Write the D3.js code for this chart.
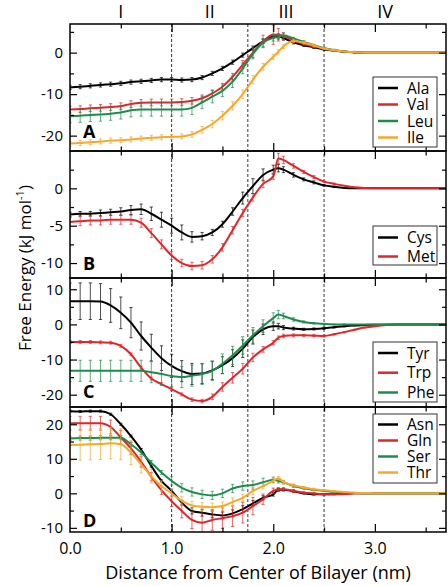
<!DOCTYPE html>
<html>
<head>
<meta charset="utf-8">
<script src="https://cdn.jsdelivr.net/npm/d3@7/dist/d3.min.js"></script>
<style>
  html, body { margin: 0; padding: 0; background: #fff; }
  svg { display: block; font-family: "Open Sans", "Noto Sans", sans-serif; }
</style>
</head>
<body>
<svg id="chart" width="448" height="586"></svg>
<script>
// ---------- DATA ----------
const xs = [0,0.1,0.2,0.3,0.4,0.5,0.6,0.7,0.8,0.9,1.0,1.1,1.2,1.3,1.4,1.5,1.6,1.7,1.8,1.9,2.0,2.05,2.1,2.2,2.3,2.4,2.5,2.6,2.7,2.8,2.9,3.0,3.2,3.7];

const regionLabels = ["I", "II", "III", "IV"];
const regionCenters = [0.5, 1.375, 2.125, 3.1];
const regionBounds = [1.0, 1.75, 2.5];
const xTickValues = [0, 1, 2, 3];
const xTickLabels = ["0.0", "1.0", "2.0", "3.0"];
const xMinorTicks = [0.5, 1.5, 2.5, 3.5];
const panelLetters = ["A", "B", "C", "D"];

// Panel A
const alaY = [-8.4,-8.2,-8.0,-7.8,-7.6,-7.4,-7.1,-6.9,-6.7,-6.5,-6.5,-6.6,-6.5,-6.0,-5.0,-3.8,-2.3,-0.6,1.1,2.7,3.9,4.0,3.5,2.5,1.8,1.3,0.8,0.5,0.2,0.1,0,0,0,0];
const alaErr = [0.5,0.5,0.5,0.5,0.5,0.5,0.5,0.5,0.5,0.5,0.5,0.5,0.5,0.5,0.5,0.5,0.5,0.5,0.5,0.5,0.5,0.5,0.5,0.4,0.3,0.3,0.3,0.2,0.2,0.2,0,0,0,0];
const valY = [-13.7,-13.6,-13.4,-13.3,-13.1,-12.9,-12.4,-12.1,-12.0,-12.0,-12.0,-11.9,-11.6,-11.0,-9.8,-8.2,-5.8,-2.9,0.0,2.7,4.3,4.3,4.0,3.0,2.1,1.5,1.0,0.6,0.3,0.1,0,0,0,0];
const valErr = [0.8,0.8,0.8,0.8,0.8,0.8,0.8,0.8,0.8,0.8,0.8,0.8,0.8,0.8,0.8,0.8,0.8,1.0,1.2,1.5,2.3,1.5,0.8,0.4,0.3,0.3,0.2,0.2,0.1,0.1,0,0,0,0];
const leuY = [-15.3,-15.2,-15.0,-14.9,-14.7,-14.4,-13.9,-13.7,-13.7,-13.7,-13.7,-13.7,-13.3,-12.0,-10.6,-9.2,-7.0,-3.8,-0.3,2.4,3.6,3.8,4.2,3.4,2.6,1.8,1.1,0.6,0.3,0.1,0,0,0,0];
const leuErr = [1.6,1.6,1.6,1.6,1.6,1.6,1.6,1.6,1.6,1.6,1.6,1.6,1.6,1.5,1.5,1.4,1.4,1.3,1.2,1.0,0.8,0.6,0.5,0.3,0.3,0.2,0.2,0.1,0.1,0.1,0,0,0,0];
const ileY = [-21.9,-21.8,-21.6,-21.4,-21.2,-21.1,-20.9,-20.7,-20.5,-20.4,-20.3,-20.2,-19.7,-18.6,-17.2,-15.2,-12.8,-10.0,-6.5,-3.4,-1.0,0.2,1.5,2.8,2.4,1.7,1.0,0.6,0.3,0.1,0,0,0,0];
const ileErr = [0.6,0.6,0.6,0.6,0.6,0.6,0.6,0.6,0.6,0.6,0.6,0.6,0.7,0.8,0.9,1.0,1.0,1.0,1.0,0.8,0.6,0.5,0.5,0.4,0.3,0.3,0.2,0.2,0.1,0.1,0,0,0,0];

// Panel B
const cysY = [-3.5,-3.4,-3.4,-3.3,-3.2,-3.1,-2.9,-2.8,-3.4,-4.2,-5.0,-5.9,-6.5,-6.4,-5.9,-4.8,-3.1,-1.3,0.3,1.8,2.5,2.7,2.5,1.8,1.2,0.8,0.4,0.2,0.05,0,0,0,0,0];
const cysErr = [0.3,0.3,0.3,0.4,0.4,0.5,0.6,0.7,0.9,1.0,1.0,1.0,0.7,0.5,0.4,0.4,0.5,0.8,1.0,0.8,0.6,0.5,0.4,0.3,0.2,0.2,0.1,0.1,0,0,0,0,0,0];
const metY = [-4.5,-4.4,-4.3,-4.3,-4.2,-4.2,-4.2,-4.6,-6.0,-7.5,-9.0,-10.0,-10.4,-10.3,-9.5,-7.9,-5.6,-3.3,-1.2,0.6,1.6,4.0,3.8,3.0,2.2,1.5,0.9,0.6,0.35,0.15,0.05,0,0,0];
const metErr = [0.6,0.6,0.6,0.6,0.6,0.6,0.6,0.6,0.6,0.6,0.5,0.5,0.5,0.5,0.5,0.5,0.5,0.5,0.5,0.5,0.4,0.7,0.5,0.3,0.2,0.2,0.1,0.1,0,0,0,0,0,0];

// Panel C
const tyrY = [6.6,6.6,6.6,6.5,5.4,3.3,0.5,-3.3,-6.6,-9.6,-11.8,-13.3,-14.1,-14.0,-13.1,-11.6,-9.6,-6.9,-3.6,-1.4,-0.5,-0.5,-0.9,-1.2,-1.4,-1.3,-1.1,-0.8,-0.5,-0.3,-0.2,-0.1,0,0];
const tyrErr = [5.2,5.2,5.2,5.1,4.8,4.5,4.3,4.0,3.8,3.5,3.3,3.0,3.0,2.8,2.6,2.4,2.4,2.5,2.0,1.5,1.2,0.8,0.6,0.4,0.3,0.3,0.3,0.2,0.2,0.1,0,0,0,0];
const trpY = [-5.0,-5.0,-5.0,-5.1,-5.2,-6.1,-8.5,-12.3,-15.4,-17.0,-18.4,-19.9,-21.4,-21.8,-20.6,-17.8,-15.2,-12.6,-9.4,-7.1,-5.2,-3.8,-3.3,-3.1,-3.1,-3.2,-3.3,-2.8,-2.2,-1.5,-0.9,-0.5,-0.05,0];
const trpErr = [0.4,0.4,0.4,0.4,0.4,0.4,0.4,0.4,0.4,0.4,0.4,0.4,0.5,0.5,0.8,1.2,1.5,1.5,1.2,0.8,0.6,0.5,0.5,0.4,0.3,0.3,0.3,0.2,0.2,0.1,0.1,0,0,0];
const pheY = [-13.2,-13.2,-13.2,-13.2,-13.2,-13.2,-13.2,-13.2,-13.6,-14.1,-14.7,-15.0,-14.6,-14.1,-13.2,-11.2,-8.8,-6.0,-3.1,-0.5,1.8,2.8,2.4,1.4,0.7,0.3,0.1,0,0,0,0,0,0,0];
const pheErr = [3.0,3.0,3.0,3.0,3.0,3.0,3.0,3.0,3.0,3.0,3.0,3.0,3.0,3.0,2.8,2.8,2.6,2.5,2.2,1.8,1.5,1.2,0.8,0.5,0.3,0.2,0.2,0.1,0.1,0,0,0,0,0];

// Panel D
const asnY = [23.8,23.7,23.8,23.8,22.9,20.0,16.6,12.7,7.9,3.6,0.7,-2.7,-5.1,-5.6,-6.1,-6.4,-5.8,-4.6,-2.9,-1.3,-0.3,1.0,1.0,0.6,0.0,-0.3,-0.3,-0.2,-0.1,0,0,0,0,0];
const asnErr = [0.3,0.3,0.3,0.3,0.3,0.3,0.3,0.3,0.3,0.3,0.5,0.7,0.9,1.0,1.0,1.0,1.0,1.0,0.8,0.6,0.5,0.4,0.3,0.3,0.2,0.2,0.1,0.1,0,0,0,0,0,0];
const glnY = [20.3,20.3,20.3,20.3,19.2,16.2,13.0,9.1,4.8,0.9,-2.3,-5.1,-7.7,-8.5,-7.7,-7.2,-6.6,-5.6,-3.7,-1.7,0.7,1.2,1.2,0.7,0.2,0,-0.3,-0.3,-0.2,0,0,0,0,0];
const glnErr = [2.0,2.0,2.0,2.0,2.0,2.0,1.8,1.5,1.2,1.2,1.5,2.0,2.5,2.8,3.0,3.0,3.0,3.0,2.5,1.5,0.8,0.5,0.5,0.4,0.3,0.3,0.2,0.2,0.1,0,0,0,0,0];
const serY = [15.9,16.0,16.0,16.1,16.1,16.1,14.2,11.8,8.9,6.0,3.6,1.6,0.4,-0.3,-0.6,0.0,1.4,2.1,2.4,3.2,3.9,3.6,3.2,2.1,1.5,1.0,0.7,0.4,0.2,0.1,0,0,0,0];
const serErr = [0.6,0.6,0.6,0.6,0.6,0.6,0.6,0.6,0.6,0.6,1.2,1.2,1.2,1.2,1.2,1.2,1.2,1.2,1.2,1.2,0.8,0.6,0.5,0.4,0.3,0.2,0.2,0.1,0.1,0,0,0,0,0];
const thrY = [14.0,14.1,14.2,14.3,14.5,14.2,11.8,8.4,5.0,2.1,0.0,-2.2,-3.5,-3.9,-4.0,-3.7,-2.5,-1.3,0.7,2.1,3.6,4.4,3.3,2.3,1.7,1.2,0.9,0.6,0.4,0.2,0.1,0.05,0,0];
const thrErr = [4.5,4.5,4.5,4.5,4.5,4.5,3.5,2.5,2.0,1.5,1.2,1.2,1.2,1.2,1.2,1.2,1.2,1.0,1.0,0.8,0.6,0.5,0.5,0.4,0.3,0.3,0.2,0.2,0.1,0.1,0,0,0,0];

// ---------- STYLE / LAYOUT ----------
const C_BLACK = "#000000", C_RED = "#e0262b", C_GREEN = "#1f8c4e", C_ORANGE = "#f5a82c";

const panels = [
  { top: 24,  bottom: 151, yDomain: [-23.7, 6.9],  major: [-20, -10, 0], minor: [-15, -5, 5],
    letterY: 138, legend: { top: 77, bottom: 147, rows: [88, 104.5, 121, 137.5] },
    series: [ {name:"Ala", color:C_BLACK, y:alaY, err:alaErr}, {name:"Val", color:C_RED, y:valY, err:valErr},
              {name:"Leu", color:C_GREEN, y:leuY, err:leuErr}, {name:"Ile", color:C_ORANGE, y:ileY, err:ileErr} ] },
  { top: 151, bottom: 278, yDomain: [-12, 5], major: [-10, -5, 0], minor: [-7.5, -2.5, 2.5],
    letterY: 269.5, legend: { top: 226, bottom: 265, rows: [237.5, 256.5] },
    series: [ {name:"Cys", color:C_BLACK, y:cysY, err:cysErr}, {name:"Met", color:C_RED, y:metY, err:metErr} ] },
  { top: 278, bottom: 407, yDomain: [-23.5, 13.2], major: [-20, -10, 0, 10], minor: [-15, -5, 5],
    letterY: 397.5, legend: { top: 342, bottom: 402, rows: [353, 372.7, 392.5] },
    series: [ {name:"Tyr", color:C_BLACK, y:tyrY, err:tyrErr}, {name:"Trp", color:C_RED, y:trpY, err:trpErr},
              {name:"Phe", color:C_GREEN, y:pheY, err:pheErr} ] },
  { top: 407, bottom: 532, yDomain: [-11.2, 25], major: [-10, 0, 10, 20], minor: [-5, 5, 15],
    letterY: 526.5, legend: { top: 414, bottom: 483, rows: [424.5, 440.5, 456.5, 472.5] },
    series: [ {name:"Asn", color:C_BLACK, y:asnY, err:asnErr}, {name:"Gln", color:C_RED, y:glnY, err:glnErr},
              {name:"Ser", color:C_GREEN, y:serY, err:serErr}, {name:"Thr", color:C_ORANGE, y:thrY, err:thrErr} ] }
];

const L = 70, R = 446;
const svg = d3.select("#chart");
const x = d3.scaleLinear().domain([0, 3.7]).range([L, R]);

// Dashed region boundaries
svg.append("g").selectAll("line").data(regionBounds).join("line")
  .attr("x1", d => x(d)).attr("x2", d => x(d))
  .attr("y1", panels[0].top).attr("y2", panels[3].bottom)
  .attr("stroke", "#000").attr("stroke-width", 0.8).attr("stroke-dasharray", "3,2");

// Region labels
svg.append("g").selectAll("text").data(regionLabels).join("text")
  .attr("x", (d, i) => x(regionCenters[i])).attr("y", 18)
  .attr("text-anchor", "middle").attr("font-size", 18).text(d => d);

panels.forEach((p, pi) => {
  const y = d3.scaleLinear().domain(p.yDomain).range([p.bottom, p.top]);
  const g = svg.append("g");
  const clipId = "clip" + pi;
  svg.append("clipPath").attr("id", clipId).append("rect")
    .attr("x", L).attr("y", p.top).attr("width", R - L).attr("height", p.bottom - p.top);

  const dataG = g.append("g").attr("clip-path", `url(#${clipId})`);
  const line = d3.line().x(d => x(d[0])).y(d => y(d[1])).curve(d3.curveMonotoneX);

  p.series.forEach(s => {
    const pts = xs.map((xv, i) => [xv, s.y[i], s.err[i]]);
    const eb = dataG.append("g").attr("stroke", s.color).attr("stroke-opacity", 0.7).attr("stroke-width", 1);
    pts.filter(d => d[2] > 0).forEach(d => {
      const cx = x(d[0]), y1 = y(d[1] - d[2]), y2 = y(d[1] + d[2]);
      eb.append("line").attr("x1", cx).attr("x2", cx).attr("y1", y1).attr("y2", y2);
      eb.append("line").attr("x1", cx - 1.6).attr("x2", cx + 1.6).attr("y1", y1).attr("y2", y1);
      eb.append("line").attr("x1", cx - 1.6).attr("x2", cx + 1.6).attr("y1", y2).attr("y2", y2);
    });
    dataG.append("path").datum(pts).attr("d", line)
      .attr("fill", "none").attr("stroke", s.color).attr("stroke-width", 2);
  });

  // y axes
  const yl = g.append("g").attr("transform", `translate(${L},0)`)
    .call(d3.axisLeft(y).tickValues(p.major).tickSizeInner(-7).tickSizeOuter(0).tickPadding(7).tickFormat(d3.format("d")));
  yl.select(".domain").remove();
  yl.selectAll("text").attr("font-size", 15).attr("font-family", "Open Sans").text(d => d < 0 ? "-" + Math.abs(d) : d);
  const ylm = g.append("g").attr("transform", `translate(${L},0)`)
    .call(d3.axisLeft(y).tickValues(p.minor).tickSizeInner(-4).tickSizeOuter(0).tickFormat(""));
  ylm.select(".domain").remove();
  const yr = g.append("g").attr("transform", `translate(${R},0)`)
    .call(d3.axisRight(y).tickValues(p.major).tickSizeInner(-7).tickSizeOuter(0).tickFormat(""));
  yr.select(".domain").remove();
  const yrm = g.append("g").attr("transform", `translate(${R},0)`)
    .call(d3.axisRight(y).tickValues(p.minor).tickSizeInner(-4).tickSizeOuter(0).tickFormat(""));
  yrm.select(".domain").remove();

  // x ticks top & bottom
  const xt = g.append("g").attr("transform", `translate(0,${p.top})`)
    .call(d3.axisTop(x).tickValues(xTickValues.filter(v => v > 0)).tickSizeInner(-8).tickSizeOuter(0).tickFormat(""));
  xt.select(".domain").remove();
  const xtm = g.append("g").attr("transform", `translate(0,${p.top})`)
    .call(d3.axisTop(x).tickValues(xMinorTicks).tickSizeInner(-4.5).tickSizeOuter(0).tickFormat(""));
  xtm.select(".domain").remove();
  const xb = g.append("g").attr("transform", `translate(0,${p.bottom})`)
    .call(d3.axisBottom(x).tickValues(pi === 3 ? xTickValues : xTickValues.filter(v => v > 0))
      .tickSizeInner(-8).tickSizeOuter(0).tickPadding(11)
      .tickFormat(pi === 3 ? (d) => xTickLabels[xTickValues.indexOf(d)] : ""));
  xb.select(".domain").remove();
  xb.selectAll("line").filter(d => d === 0).remove();
  xb.selectAll("text").attr("font-size", 16).attr("font-family", "Open Sans");
  const xbm = g.append("g").attr("transform", `translate(0,${p.bottom})`)
    .call(d3.axisBottom(x).tickValues(xMinorTicks).tickSizeInner(-4.5).tickSizeOuter(0).tickFormat(""));
  xbm.select(".domain").remove();
  g.selectAll(".tick line").attr("stroke", "#000").attr("stroke-width", 1.2);

  // frame
  g.append("rect").attr("x", L).attr("y", p.top).attr("width", R - L).attr("height", p.bottom - p.top)
    .attr("fill", "none").attr("stroke", "#000").attr("stroke-width", 1.5);

  // panel letter
  g.append("text").attr("x", 83).attr("y", p.letterY).attr("font-size", 18).attr("font-weight", "bold")
    .text(panelLetters[pi]);

  // legend
  const lg = g.append("g");
  lg.append("rect").attr("x", 373).attr("y", p.legend.top).attr("width", 64)
    .attr("height", p.legend.bottom - p.legend.top).attr("fill", "#fff").attr("stroke", "#333").attr("stroke-width", 1);
  p.series.forEach((s, i) => {
    const ry = p.legend.rows[i];
    lg.append("line").attr("x1", 378).attr("x2", 398).attr("y1", ry).attr("y2", ry)
      .attr("stroke", s.color).attr("stroke-width", 2.5);
    lg.append("text").attr("x", 407).attr("y", ry).attr("dy", "0.36em").attr("font-size", 15.5).text(s.name);
  });
});

// Axis titles
svg.append("text").attr("x", (L + R) / 2).attr("y", 579).attr("text-anchor", "middle")
  .attr("font-size", 18).text("Distance from Center of Bilayer (nm)");

const yt = svg.append("text").attr("transform", "translate(31,268) rotate(-90)")
  .attr("text-anchor", "middle").attr("font-size", 17);
yt.append("tspan").text("Free Energy (kJ mol");
yt.append("tspan").attr("font-size", 11).attr("dy", -7).text("-1");
yt.append("tspan").attr("dy", 7).text(")");
</script>
</body>
</html>
